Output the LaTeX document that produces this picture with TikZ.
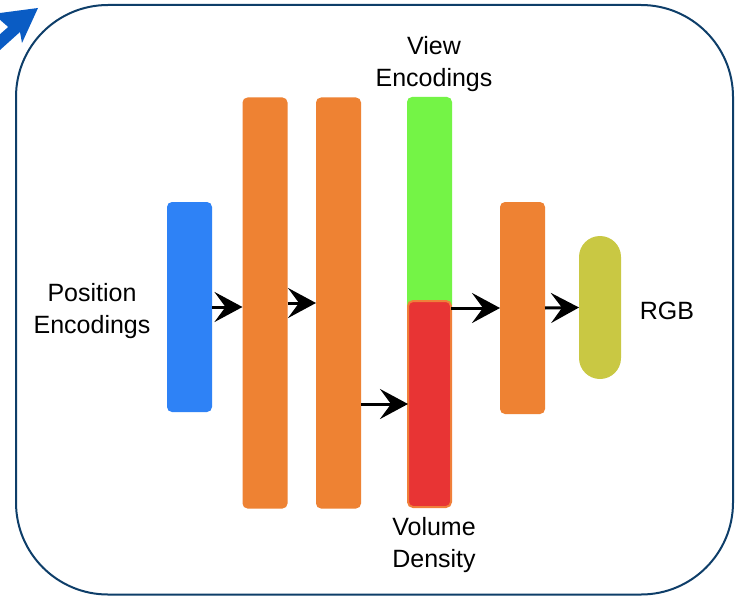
\documentclass[tikz,border=0pt]{standalone}
\usepackage{fontspec}
\setmainfont{Liberation Sans}
\usetikzlibrary{arrows.meta}
\definecolor{layerblue}{HTML}{2E82F6}
\definecolor{layerorange}{HTML}{EE8233}
\definecolor{layergreen}{HTML}{74F446}
\definecolor{layerred}{HTML}{E83434}
\definecolor{redrim}{HTML}{F07F3A}
\definecolor{layerolive}{HTML}{C9C843}
\definecolor{framecol}{HTML}{0E3E69}
\definecolor{iconblue}{HTML}{0A5CC4}
\tikzset{
  layer/.style={rectangle, rounded corners=5pt, inner sep=0pt, outer sep=0pt,
    minimum width=45pt},
  flow/.style={line width=3pt, -{Stealth[length=28pt,width=30pt,inset=11pt]}},
  caption/.style={align=center, font=\fontsize{25}{32}\selectfont, inner sep=0pt}
}
\begin{document}
\begin{tikzpicture}[x=1pt,y=-1pt]
\useasboundingbox (0,0) rectangle (735,596);
\fill[white] (0,0) rectangle (735,596);
% outer frame
\draw[framecol, line width=2pt, rounded corners=92pt] (16,5) rectangle (733,594.5);
% corner icon
\fill[iconblue] (38,8) -- (0,13) -- (0,50) -- (20,32) -- (22,43) -- cycle;
\fill[white] (0,20) -- (8,27) -- (0,34) -- cycle;
% layers
\node[layer, fill=layerblue, minimum height=210pt] (blue) at (189.5,307) {};
\node[layer, fill=layerorange, minimum height=411pt] (o1) at (265,303) {};
\node[layer, fill=layerorange, minimum height=411pt] (o2) at (338.5,303) {};
\node[layer, fill=layergreen, minimum height=213pt] (green) at (429.5,203.5) {};
\node[layer, fill=layerred, draw=redrim, line width=2pt, minimum width=43pt, minimum height=206pt] (red) at (429.5,404) {};
\node[layer, fill=layerorange, minimum height=212pt] (o3) at (522.5,308) {};
\node[layer, fill=layerolive, rounded corners=21pt, minimum width=42pt, minimum height=143pt] (olive) at (600,307.5) {};
% connections
\draw[flow] (blue.east) -- (blue.east -| o1.west);
\draw[flow] (o1.east) -- (o2.west);
\draw[flow] (red.west -| o2.east) -- (red.west);
\draw[flow] (o3.west -| red.east) -- (o3.west);
\draw[flow] (o3.east) -- (olive.west);
% captions
\node[caption] (pos) at (92,311) {Position\\Encodings};
\node[caption] (view) at (434,64) {View\\Encodings};
\node[caption] (dens) at (434,545) {Volume\\Density};
\node[caption] (rgb) at (667,311) {RGB};
\end{tikzpicture}
\end{document}
